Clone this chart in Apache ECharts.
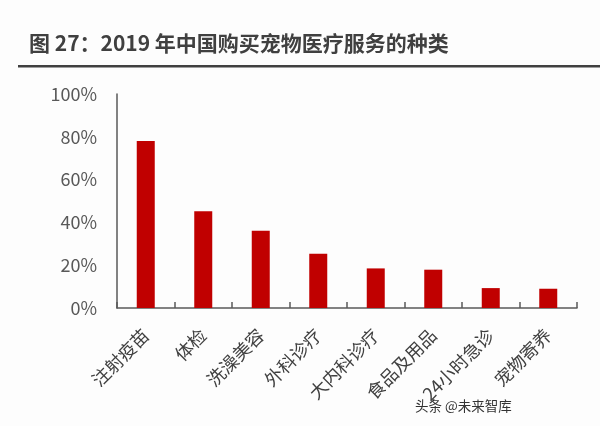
<!DOCTYPE html>
<html><head><meta charset="utf-8">
<script src="https://cdn.jsdelivr.net/npm/echarts@6/dist/echarts.min.js"></script>
<style>html,body{margin:0;padding:0;background:#fdfdfd}#c{width:600px;height:426px}</style>
</head><body><div id="c"></div>
<script>
const titleText = '图 27：2019 年中国购买宠物医疗服务的种类';
const categories = ['注射疫苗','体检','洗澡美容','外科诊疗','大内科诊疗','食品及用品','24小时急诊','宠物寄养'];
const values = [78, 45.2, 36.1, 25.4, 18.5, 17.9, 9.3, 9.0];
const yTicks = [0, 20, 40, 60, 80, 100];
const watermark = '头条 @未来智库';

const chart = echarts.init(document.getElementById('c'));
chart.setOption({
  backgroundColor: '#fdfdfd',
  animation: false,
  textStyle: {fontFamily: '"Noto Sans CJK SC", "Noto Sans", sans-serif'},
  graphic: [
    {type:'text', left: 29, top: 33, style:{text: titleText, fontSize: 21, fontWeight:'bold', fill:'#404040', fontFamily:'"Noto Sans CJK SC", sans-serif'}},
    {type:'rect', shape:{x:18, y:65, width:582, height:2.5}, style:{fill:'#404040'}},
    {type:'text', left: 415, top: 399, style:{text: watermark, fontSize: 13.5, fill:'#333', fontFamily:'"Noto Sans CJK SC", sans-serif'}}
  ],
  grid: {left: 117, right: 23, top: 94, bottom: 118},
  xAxis: {
    type:'category', data: categories,
    axisLine:{lineStyle:{color:'#595959', width:1.5}},
    axisTick:{show:true, inside:true, length:6, lineStyle:{color:'#595959', width:1.5}},
    axisLabel:{rotate:45, fontSize:18, color:'#404040', margin:24, interval:0}
  },
  yAxis: {
    type:'value', min: yTicks[0], max: yTicks[yTicks.length-1], interval: 20,
    axisLine:{show:true, lineStyle:{color:'#595959', width:1.5}},
    axisTick:{show:false},
    splitLine:{show:false},
    axisLabel:{fontSize:18, color:'#595959', margin:20, formatter: v => v + '%'}
  },
  series: [{
    type:'bar', data: values, barWidth: 18,
    itemStyle:{color:'#C00000'}
  }]
});
</script></body></html>
